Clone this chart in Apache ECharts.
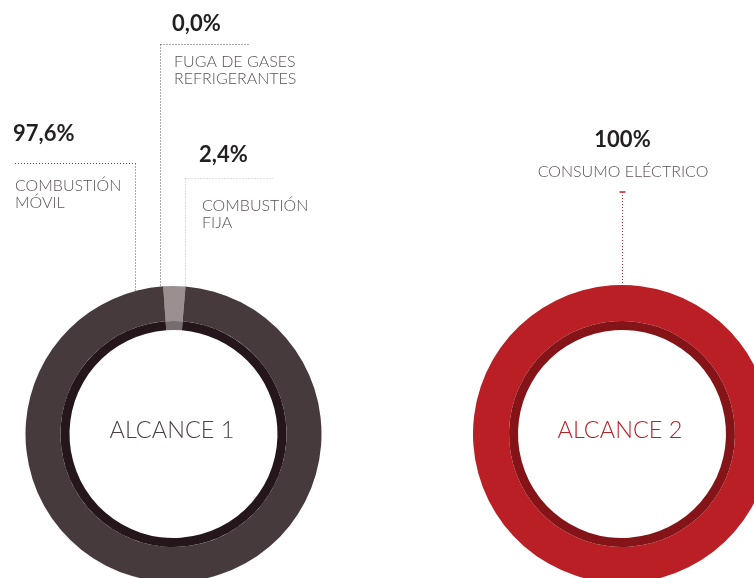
<!DOCTYPE html>
<html>
<head>
<meta charset="utf-8">
<script src="https://cdn.jsdelivr.net/npm/echarts@6/dist/echarts.min.js"></script>
<style>
  html, body { margin: 0; padding: 0; background: #ffffff; }
  #chart { width: 754px; height: 578px; }
</style>
</head>
<body>
<div id="chart"></div>
<script>
// Alcance 1: emission sources and their share (%)
const scope1Names = ['COMBUSTIÓN\nFIJA', 'COMBUSTIÓN\nMÓVIL', 'FUGA DE GASES\nREFRIGERANTES'];
const scope1Values = [2.4, 97.6, 0.0];
// Alcance 2
const scope2Names = ['CONSUMO ELÉCTRICO'];
const scope2Values = [100];
const scopeTitles = ['ALCANCE 1', 'ALCANCE 2'];

const FONT = 'Lato';
const outerColors1 = ['#9b8f90', '#463a3c', '#9b8f90'];
const innerColors1 = ['#776c6e', '#24161a', '#776c6e'];
const outerColors2 = ['#b91f24'];
const innerColors2 = ['#851419'];

const c1 = [173.5, 434];
const c2 = [622, 434];

function pct1(v) { return v.toFixed(1).replace('.', ',') + '%'; }
function pct2(v) { return Math.round(v) + '%'; }

function ring(center, radius, names, values, colors) {
  return {
    type: 'pie',
    center: center,
    radius: radius,
    startAngle: 94,
    clockwise: true,
    silent: true,
    animation: false,
    label: { show: false },
    labelLine: { show: false },
    emphasis: { disabled: true },
    itemStyle: { borderWidth: 0 },
    data: names.map((n, i) => ({ name: n, value: values[i], itemStyle: { color: colors[i] } }))
  };
}

const dotted = (color) => ({ stroke: color, lineWidth: 1, lineDash: [1, 2] });

function line(x1, y1, x2, y2, color) {
  return { type: 'line', shape: { x1, y1, x2, y2 }, style: dotted(color), silent: true };
}
function text(x, y, str, opts) {
  return {
    type: 'text', x, y, silent: true,
    style: Object.assign({ text: str, fontFamily: FONT, textVerticalAlign: 'top' }, opts)
  };
}

const pctStyle = { fontSize: 22, fontWeight: 'bold', fill: '#231f20' };
const nameStyle = { fontSize: 16, fill: '#5b5153', lineHeight: 17.5, fontWeight: 300 };

const chart = echarts.init(document.getElementById('chart'), null, { renderer: 'canvas' });
chart.setOption({
  backgroundColor: '#ffffff',
  animation: false,
  series: [
    ring(c1, [113, 148], scope1Names, scope1Values, outerColors1),
    ring(c1, [104, 113], scope1Names, scope1Values, innerColors1),
    ring(c2, [113, 149], scope2Names, scope2Values, outerColors2),
    ring(c2, [104, 113], scope2Names, scope2Values, innerColors2)
  ],
  graphic: [
    // Combustión móvil
    line(15, 163.5, 135.5, 163.5, '#5a5052'),
    line(135.5, 163.5, 135.5, 291, '#5a5052'),
    text(13, 123, pct1(scope1Values[1]), pctStyle),
    text(15, 177, scope1Names[1], nameStyle),
    // Fuga de gases refrigerantes
    line(160.5, 44.5, 250, 44.5, '#5a5052'),
    line(160.5, 44.5, 160.5, 287, '#5a5052'),
    text(172, 13, pct1(scope1Values[2]), pctStyle),
    text(174, 53, scope1Names[2], nameStyle),
    // Combustión fija
    line(185.5, 178.5, 273, 178.5, '#c4bcbd'),
    line(185.5, 178.5, 185.5, 287, '#c4bcbd'),
    text(199, 144, pct1(scope1Values[0]), pctStyle),
    text(202, 197, scope1Names[0], nameStyle),
    // Consumo eléctrico
    line(622.5, 192, 622.5, 286, '#c8262c'),
    { type: 'line', shape: { x1: 619.5, y1: 192, x2: 625.5, y2: 192 }, style: { stroke: '#c8262c', lineWidth: 1.5 }, silent: true },
    text(622.5, 129, pct2(scope2Values[0]), Object.assign({}, pctStyle, { textAlign: 'center' })),
    text(623, 163, scope2Names[0], Object.assign({}, nameStyle, { textAlign: 'center' })),
    // Centre titles
    text(172, 430, scopeTitles[0], { fontSize: 23.5, fill: '#4a3f41', fontWeight: 300, textAlign: 'center', textVerticalAlign: 'middle' }),
    text(620, 430, scopeTitles[1], { fontSize: 23.5, fill: '#b91f24', fontWeight: 300, textAlign: 'center', textVerticalAlign: 'middle' })
  ]
});
</script>
</body>
</html>
